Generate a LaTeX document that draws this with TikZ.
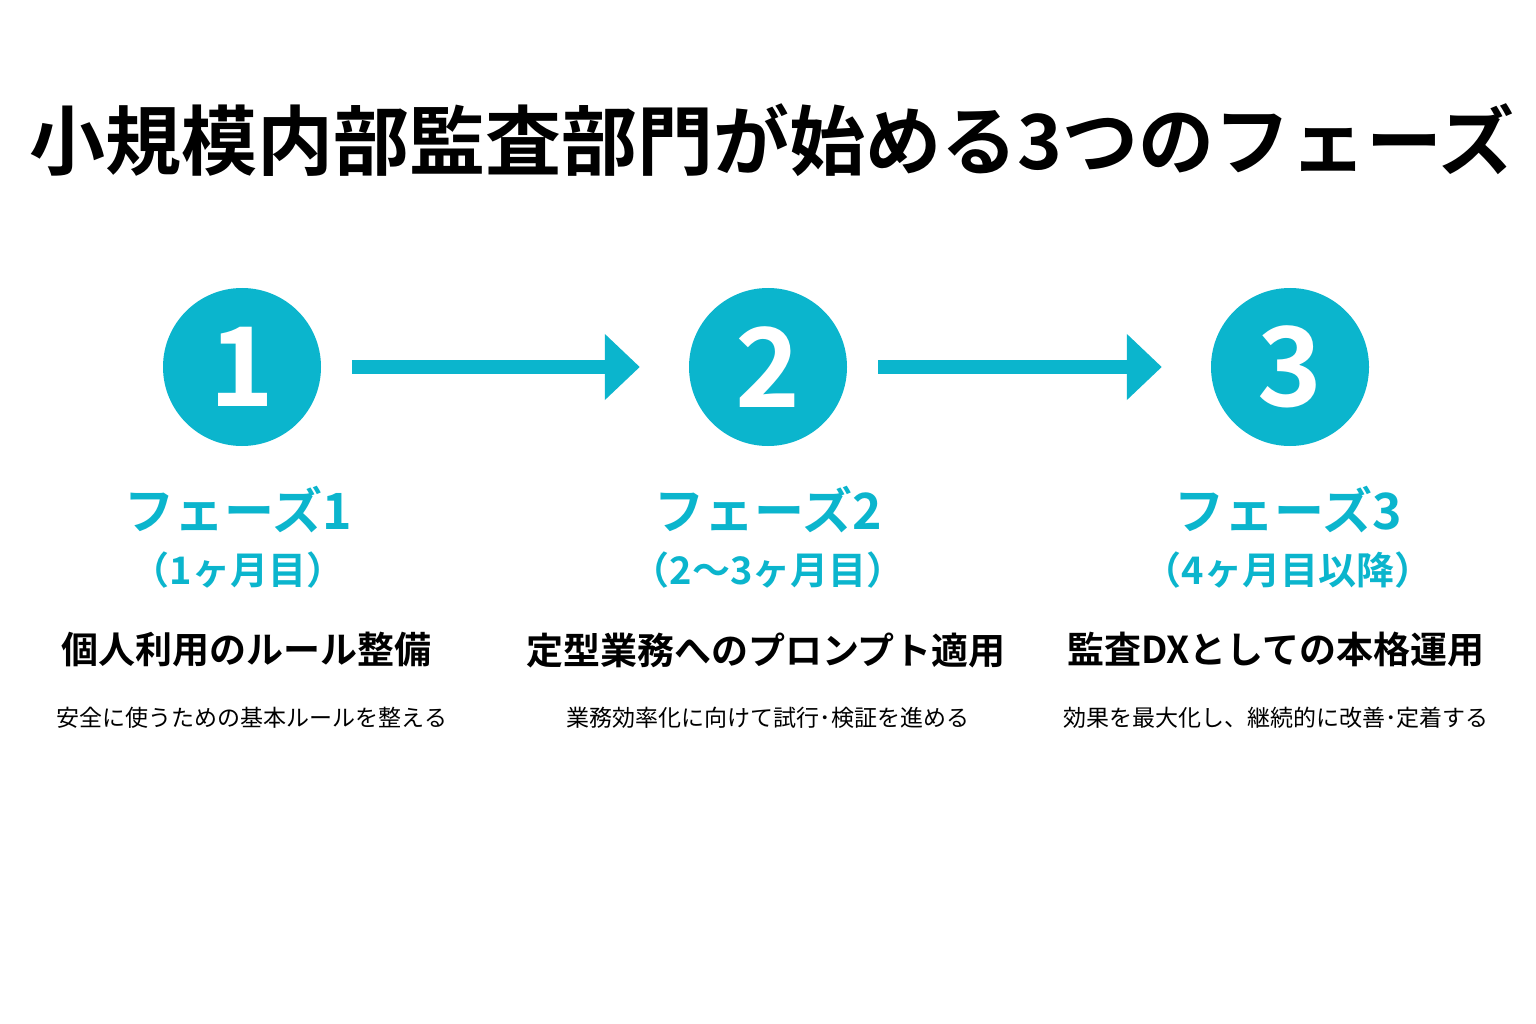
\documentclass[tikz,border=0pt]{standalone}
\usepackage{fontspec}
\setmainfont{Noto Sans CJK JP}[BoldFont={* Bold}]
\usetikzlibrary{arrows.meta}
\definecolor{teal}{HTML}{0BB5CD}
\begin{document}
\begin{tikzpicture}[x=1pt,y=-1pt,
  circ/.style={circle,fill=teal,minimum size=158pt,inner sep=0pt,text=white,font=\bfseries\fontsize{110}{110}\selectfont},
  arr/.style={draw=teal,line width=14pt,-{Triangle[length=35pt,width=64pt]},shorten <=31pt,shorten >=49pt},
  phase/.style={text=teal,font=\bfseries\fontsize{50}{50}\selectfont},
  period/.style={text=teal,font=\bfseries\fontsize{38}{38}\selectfont},
  head/.style={font=\bfseries\fontsize{37}{37}\selectfont},
  sub/.style={font=\fontsize{23}{23}\selectfont}]
\useasboundingbox[fill=white] (0,0) rectangle (1536,1024);
\node[font=\bfseries\fontsize{76}{76}\selectfont] (title) at (772,140) {小規模内部監査部門が始める3つのフェーズ};
\node[circ] (c1) at (242,367) {1};
\node[circ] (c2) at (768,367) {2};
\node[circ] (c3) at (1290,367) {3};
\draw[arr] (c1) -- (c2);
\draw[arr] (c2) -- (c3);
\node[phase] (p1) at (238,510) {フェーズ1};
\node[phase] (p2) at (768,510) {フェーズ2};
\node[phase] (p3) at (1288,510) {フェーズ3};
\node[period] (t1) at (238,570) {（1ヶ月目）};
\node[period] (t2) at (768,570) {（2〜3ヶ月目）};
\node[period] (t3) at (1288,570) {（4ヶ月目以降）};
\node[head] (h1) at (246,650) {個人利用のルール整備};
\node[head] (h2) at (766,650) {定型業務へのプロンプト適用};
\node[head] (h3) at (1276,650) {監査DXとしての本格運用};
\node[sub] (s1) at (252,718) {安全に使うための基本ルールを整える};
\node[sub] (s2) at (768,718) {業務効率化に向けて試行･検証を進める};
\node[sub] (s3) at (1276,718) {効果を最大化し、継続的に改善･定着する};
\end{tikzpicture}
\end{document}
